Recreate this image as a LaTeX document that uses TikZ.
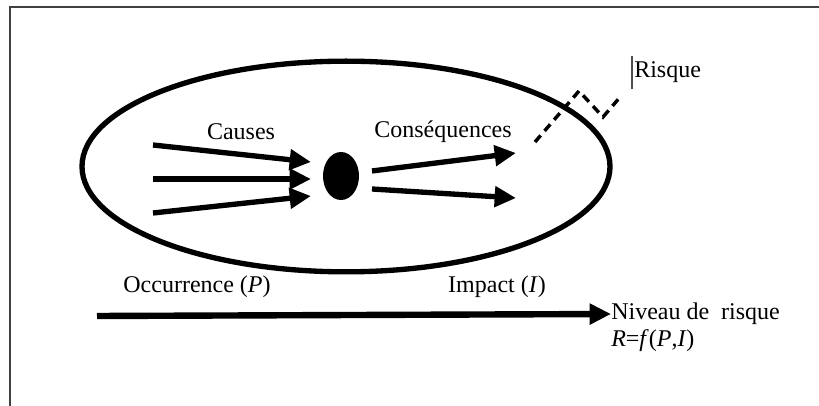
\documentclass[tikz,border=0pt]{standalone}
\usepackage{fontspec}
\setmainfont{Liberation Serif}
\usetikzlibrary{positioning}
\usetikzlibrary{arrows.meta}
\usetikzlibrary{shapes.geometric}
\tikzset{lbl/.style={inner sep=0pt, font=\fontsize{18}{21}\selectfont}}
\tikzset{fleche/.style={line width=4pt, -{Triangle[length=16pt, width=15pt]}}}
\tikzset{tirets/.style={line width=2.6pt, dash pattern=on 6.5pt off 4.5pt}}

\begin{document}
\begin{tikzpicture}[x=0.75pt, y=-0.75pt]
\useasboundingbox (0,0) rectangle (819,406);
\draw[line width=1.5pt, black!75] (10,406) -- (10,7) -- (819,7);

\node[draw, ellipse, line width=4pt, minimum width=396pt, minimum height=158pt] (risque) at (346,166.5) {};
\node[ellipse, fill=black, minimum width=27pt, minimum height=36pt, inner sep=0pt] (noyau) at (341,176) {};

\node[lbl] (causes) at (241,132) {Causes};
\node[lbl] (consq) at (443,132) {Conséquences};
\node[lbl, anchor=west] (nom) at (634,72) {Risque};
\draw[line width=1pt, black!70] (nom.west) ++(-1.5pt,-13pt) -- ++(0,25pt);

% causes
\coordinate (c1) at (153,145);
\coordinate (c2) at (153,179);
\coordinate (c3) at (153,213);
\coordinate (e1) at (311,162);
\coordinate (e2) at (311,179);
\coordinate (e3) at (311,196);
\draw[fleche] (c1) -- (e1);
\draw[fleche] (c2) -- (e2);
\draw[fleche] (c3) -- (e3);

% consequences
\coordinate (s1) at (372,171);
\coordinate (s2) at (372,189);
\coordinate (t1) at (516,153);
\coordinate (t2) at (516,198);
\draw[fleche] (s1) -- (t1);
\draw[fleche] (s2) -- (t2);

\coordinate (amorce) at (535,142);
\draw[tirets] (amorce) -- ++(44,-51) -- ++(24,26) -- ++(18,-21);

\node[lbl] (occ) at (197,287) {Occurrence (\textit{P})};
\node[lbl] (imp) at (497,287) {Impact (\textit{I})};

\node[lbl, anchor=west] (niveau) at (611,314) {Niveau de\ \ risque};
\node[lbl, below=20pt of niveau.west, anchor=west] (formule) {\textit{R}=\textit{f}(\textit{P},\textit{I})};

\coordinate (depart) at (97,316);
\draw[line width=4.8pt, -{Triangle[length=16pt, width=15pt]}] (depart) -- (niveau.west);
\end{tikzpicture}
\end{document}
